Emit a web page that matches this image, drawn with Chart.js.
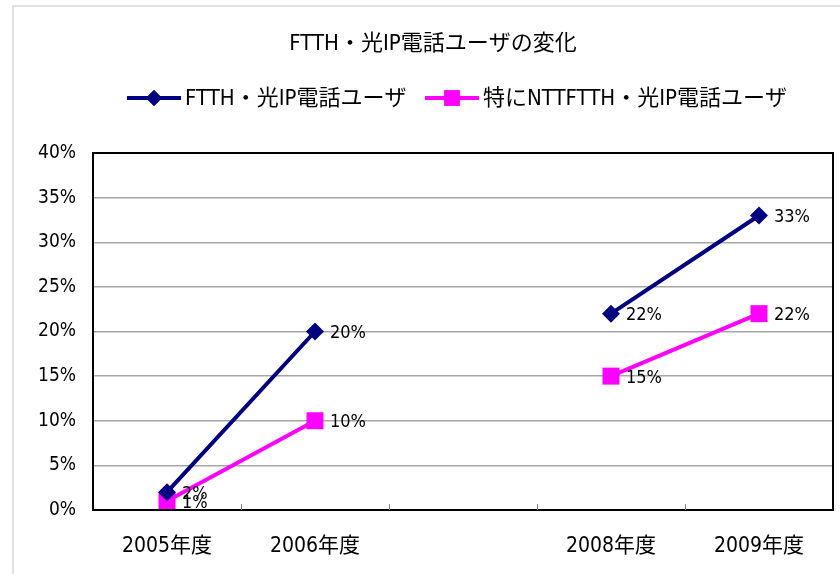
<!DOCTYPE html>
<html>
<head>
<meta charset="utf-8">
<script src="https://cdn.jsdelivr.net/npm/chart.js@4/dist/chart.umd.min.js"></script>
<style>
  html, body { margin: 0; padding: 0; background: #fff; }
  #wrap { width: 840px; height: 574px; }
</style>
</head>
<body>
<div id="wrap"><canvas id="userChart" width="840" height="574"></canvas></div>
<script>
const years = ['2005年度', '2006年度', '', '2008年度', '2009年度'];
const ftthUsers = [2, 20, null, 22, 33];
const nttUsers = [1, 10, null, 15, 22];
const seriesNames = ['FTTH・光IP電話ユーザ', '特にNTTFTTH・光IP電話ユーザ'];
const chartTitle = 'FTTH・光IP電話ユーザの変化';

const FONT = "'DejaVu Sans Condensed', 'Noto Sans CJK JP', sans-serif";
const NAVY = '#000080';
const MAGENTA = '#ff00ff';

// title, legend, frame, labels drawn by hand
const decorations = {
    id: 'decorations',
    beforeDraw(chart) {
        const c = chart.ctx;
        c.save();
        c.strokeStyle = '#d9d9d9';
        c.lineWidth = 1.5;
        c.beginPath();
        c.moveTo(13, 574);
        c.lineTo(13, 6);
        c.lineTo(840, 6);
        c.stroke();
        c.restore();
    },
    afterDatasetsDraw(chart) {
        const c = chart.ctx;
        const area = chart.chartArea;
        const xs = chart.scales.x;
        c.save();

        // plot frame
        c.strokeStyle = '#000';
        c.lineWidth = 2;
        c.strokeRect(area.left, area.top, area.right - area.left, area.bottom - area.top);

        // small category ticks pointing up
        c.lineWidth = 1;
        c.strokeStyle = '#808080';
        for (let i = 1; i < years.length; i++) {
            const x = Math.round((xs.getPixelForValue(i - 1) + xs.getPixelForValue(i)) / 2) + 0.5;
            c.beginPath();
            c.moveTo(x, area.bottom);
            c.lineTo(x, area.bottom - 6);
            c.stroke();
        }

        // value labels
        c.fillStyle = '#000';
        c.font = '18px ' + FONT;
        c.textAlign = 'left';
        c.textBaseline = 'middle';
        chart.data.datasets.forEach((ds, di) => {
            chart.getDatasetMeta(di).data.forEach((pt, i) => {
                const v = ds.data[i];
                if (v === null) return;
                c.fillText(v + '%', pt.x + 15, pt.y + 2);
            });
        });

        // title
        c.font = '22px ' + FONT;
        c.textAlign = 'center';
        c.fillText(chartTitle, 433, 44);

        // legend
        c.textAlign = 'left';
        const items = [
            { x: 127, color: NAVY, style: 'rectRot', r: 8 },
            { x: 425, color: MAGENTA, style: 'rect', r: 11 }
        ];
        items.forEach((it, k) => {
            const y = 98;
            c.strokeStyle = it.color;
            c.lineWidth = 4;
            c.beginPath();
            c.moveTo(it.x, y);
            c.lineTo(it.x + 54, y);
            c.stroke();
            c.fillStyle = it.color;
            Chart.helpers.drawPoint(c, { pointStyle: it.style, radius: it.r, rotation: 0, borderWidth: 0 }, it.x + 27, y);
            c.fill();
            c.fillStyle = '#000';
            c.fillText(seriesNames[k], it.x + 58, y + 1);
        });
        c.restore();
    }
};

new Chart(document.getElementById('userChart'), {
    type: 'line',
    data: {
        labels: years,
        datasets: [
            {
                label: seriesNames[0],
                data: ftthUsers,
                borderColor: NAVY,
                backgroundColor: NAVY,
                borderWidth: 4,
                pointStyle: 'rectRot',
                pointRadius: 9,
                pointBorderWidth: 0,
                tension: 0,
                spanGaps: false
            },
            {
                label: seriesNames[1],
                data: nttUsers,
                borderColor: MAGENTA,
                backgroundColor: MAGENTA,
                borderWidth: 4,
                pointStyle: 'rect',
                pointRadius: 12,
                pointBorderWidth: 0,
                tension: 0,
                spanGaps: false
            }
        ]
    },
    options: {
        responsive: false,
        animation: false,
        layout: { padding: { left: 0, right: 0, top: 153, bottom: 0 } },
        plugins: {
            legend: { display: false },
            title: { display: false },
            tooltip: { enabled: false }
        },
        scales: {
            x: {
                offset: true,
                grid: { display: false },
                border: { display: false },
                ticks: {
                    color: '#000',
                    font: { family: FONT, size: 21 },
                    padding: 16,
                    maxRotation: 0,
                    autoSkip: false
                },
                afterFit(scale) {
                    scale.height = 64;
                }
            },
            y: {
                min: 0,
                max: 40,
                grid: { color: '#a6a6a6', lineWidth: 1.5, drawTicks: false },
                border: { display: false },
                ticks: {
                    stepSize: 5,
                    color: '#000',
                    font: { family: FONT, size: 19 },
                    padding: 17,
                    callback: v => v + '%'
                },
                afterFit(scale) { scale.width = 93; }
            }
        }
    },
    plugins: [decorations, {
        id: 'areaFix',
        afterLayout(chart) {
            // pin the plot's right edge
            const xs = chart.scales.x;
            const ys = chart.scales.y;
            chart.chartArea.right = 833;
            chart.chartArea.width = 833 - chart.chartArea.left;
            xs.right = 833;
            xs.width = 833 - xs.left;
            xs.configure();
            ys.right = ys.right;
        }
    }]
});
</script>
</body>
</html>
